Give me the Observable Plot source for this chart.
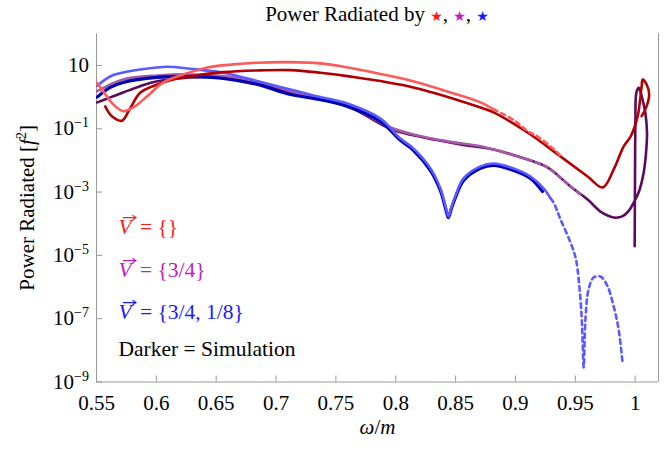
<!DOCTYPE html>
<html><head><meta charset="utf-8">
<script src="https://cdn.jsdelivr.net/npm/d3@7"></script>
<script src="https://cdn.jsdelivr.net/npm/@observablehq/plot@0.6"></script>
<style>
body{margin:0;background:#fff;}
#title{width:668px;height:30px;box-sizing:border-box;padding:4px 10px 0 96px;font-family:"Liberation Serif","Times New Roman",serif;font-size:21px;line-height:21px;text-align:center;white-space:nowrap;color:#000}
#title .star{font-family:"DejaVu Sans",sans-serif;font-size:14px}
</style></head><body>
<div id="title"></div>
<div id="chart"></div>
<script>
// ---- text ----
const titleText = "Power Radiated by";
const starColors = ["#ff1a1a", "#c020c0", "#1a1aff"];
const xLabel = "ω/m";
const yLabel = "Power Radiated [f^2]";
const legendLabels = ["V = {}", "V = {3/4}", "V = {3/4, 1/8}", "Darker = Simulation"];
const legendColors = ["#ff1a1a", "#c020c0", "#1a1aff", "#000000"];
const FONT = '"Liberation Serif", "Times New Roman", serif';

// ---- axes ----
const xDomain = [0.55, 1.0195];
const yDomain = [1e-9, 1e2];
const xTicks = [0.55, 0.6, 0.65, 0.7, 0.75, 0.8, 0.85, 0.9, 0.95, 1];
const yTicks = [1e1, 1e-1, 1e-3, 1e-5, 1e-7, 1e-9];
const yTickLabels = ["10", "10^-1", "10^-3", "10^-5", "10^-7", "10^-9"];

// ---- series: [omega/m, power] ----
const redTheory = [[0.5506,2.8],[0.5556,1.54],[0.5640,0.59],[0.5723,0.36],[0.5807,0.47],[0.5924,1.07],[0.6058,2.9],[0.6225,5.2],[0.6425,8.65],[0.6643,10.8],[0.6844,12.2],[0.7119,12.7],[0.7369,11.6],[0.7596,8.65],[0.7872,5.4],[0.8147,3.19],[0.8432,1.5],[0.8708,0.68],[0.8817,0.41]];
const redTheoryExt = [[0.8817,0.41],[0.8984,0.19],[0.9101,0.085],[0.9185,0.057],[0.9318,0.023],[0.9377,0.014]];
const redSim = [[0.5573,0.51],[0.5615,0.28],[0.5665,0.2],[0.5715,0.18],[0.5782,0.45],[0.5865,1.37],[0.6008,2.51],[0.6141,3.61],[0.6283,4.59],[0.6559,6.14],[0.6844,6.95],[0.7119,7.11],[0.7369,5.9],[0.7596,4.59],[0.8147,2.02],[0.8708,0.47],[0.8817,0.33],[0.9101,0.076],[0.9377,0.0133],[0.9603,0.0031],[0.9729,0.0014],[0.9821,0.0052],[0.9904,0.0276],[0.9962,0.057],[1.0021,0.25],[1.0054,2.17],[1.0063,3.6],[1.0096,2.51],[1.0117,1.21],[1.0096,0.52],[1.0054,0.25]];
const purpleTheory = [[0.5506,1.54],[0.5723,3.61],[0.6008,4.83],[0.6283,5.2],[0.6559,4.59],[0.6844,3.19],[0.7119,1.54],[0.7312,0.98],[0.7596,0.55],[0.7872,0.16],[0.7955,0.11],[0.8147,0.066],[0.8432,0.040],[0.8708,0.028],[0.8817,0.022],[0.9101,0.0107]];
const purpleTheoryExt = [[0.9101,0.0107],[0.9268,0.006],[0.946,0.0015],[0.955,0.0008]];
const purpleSim = [[0.5506,0.68],[0.5615,0.98],[0.5723,1.4],[0.5865,2.22],[0.6008,3.19],[0.6283,4.18],[0.6559,4.18],[0.6844,2.9],[0.7119,1.4],[0.7596,0.51],[0.7955,0.10],[0.8147,0.062],[0.8541,0.032],[0.8817,0.022],[0.9101,0.0107],[0.9268,0.006],[0.9460,0.0015],[0.9603,5.8e-4],[0.9711,2.4e-4],[0.9821,1.57e-4],[0.9892,1.7e-4],[0.9945,2.5e-4],[0.9987,4.6e-4],[1.0029,9.7e-4],[1.0071,0.0041],[1.0093,0.022],[1.0099,0.075],[1.0085,0.32],[1.0058,0.95],[1.003,1.97],[1.001,1.37],[1.0002,0.155],[0.9999,0.0041],[0.9996,1.95e-5]];
const blueTheory = [[0.5506,2.3],[0.5615,4.49],[0.5723,6.01],[0.5865,7.48],[0.6091,9.1],[0.6283,7.87],[0.6559,5.87],[0.6844,3.19],[0.7119,1.75],[0.7312,1.13],[0.7596,0.63],[0.7872,0.21],[0.8039,0.049],[0.8147,0.024],[0.829,0.0056],[0.8373,0.0013],[0.8423,2.8e-4],[0.844,1.7e-4],[0.8465,3.3e-4],[0.8499,7.8e-4],[0.8566,0.0027],[0.8708,0.0065],[0.8817,0.008],[0.8984,0.0056],[0.9126,0.0031],[0.9235,0.0013],[0.9293,6.3e-4]];
const blueTheoryExt = [[0.9293,6.3e-4],[0.9318,4.7e-4],[0.9377,1.36e-4],[0.946,2.55e-5],[0.9502,8.6e-6],[0.9519,3.6e-6],[0.9536,8.4e-7],[0.9553,1.17e-7],[0.9561,1.77e-8],[0.957,2.9e-9],[0.9586,1.17e-7],[0.9611,8.4e-7],[0.9653,2.0e-6],[0.9711,2.15e-6],[0.977,1.04e-6],[0.9821,2.4e-7],[0.9862,4.6e-8],[0.9896,3.6e-9]];
const blueSim = [[0.5506,1.0],[0.5615,2.02],[0.5723,2.9],[0.6008,4.18],[0.6283,4.49],[0.6559,3.88],[0.6844,2.51],[0.7119,1.21],[0.7312,0.91],[0.7596,0.51],[0.7872,0.17],[0.8039,0.043],[0.8147,0.021],[0.829,0.0048],[0.8373,0.0011],[0.8423,2.4e-4],[0.844,1.57e-4],[0.8465,3.0e-4],[0.8499,6.8e-4],[0.8566,0.0023],[0.8708,0.0056],[0.8817,0.0069],[0.8984,0.0048],[0.9126,0.0027],[0.9226,0.00104]];

const C = {
  lightRed: "#ff5a5a", darkRed: "#b20000",
  lightPurple: "#a45aa8", darkPurple: "#5c0a5c",
  lightBlue: "#5a5aff", darkBlue: "#0000b4",
  axis: "#999"
};

// title
const t = document.getElementById("title");
t.append(titleText + " ");
starColors.forEach((c, i) => {
  const s = document.createElement("span");
  s.className = "star"; s.style.color = c; s.textContent = "★";
  t.append(s);
  if (i < starColors.length - 1) t.append(", ");
});

const ln = (data, stroke, w, extra = {}) => Plot.line(data, {x: d => d[0], y: d => d[1], stroke, strokeWidth: w, curve: "catmull-rom", clip: true, ...extra});
const dash = {strokeDasharray: "4.5,4"};

const legendDy = [19.6, 62.6, 104.6, 141.6];

const svg = Plot.plot({
  width: 668, height: 420,
  marginLeft: 96, marginRight: 10, marginTop: 3.3, marginBottom: 68.5,
  style: {fontFamily: FONT, fontSize: "21px", background: "white", color: "black", overflow: "visible"},
  x: {domain: xDomain},
  y: {type: "log", domain: yDomain},
  marks: [
    Plot.ruleX([xDomain[0], xDomain[1]], {stroke: C.axis, strokeWidth: 1}),
    Plot.ruleY([yDomain[0]], {stroke: C.axis, strokeWidth: 1}),
    Plot.axisX({ticks: xTicks, tickSize: -6, tickPadding: 19, tickFormat: d => String(+d.toFixed(2)), stroke: C.axis, fill: "black", label: null, fontFamily: FONT, fontSize: 21}),
    Plot.axisY({ticks: yTicks, tickSize: -6, tickPadding: 13.5, tickFormat: d => yTickLabels[yTicks.indexOf(d)], stroke: C.axis, fill: "black", label: null, fontFamily: FONT, fontSize: 21}),
    ln(purpleSim, C.darkPurple, 2.6),
    ln(purpleTheory, C.lightPurple, 2.6),
    ln(purpleTheoryExt, C.lightPurple, 2.6, dash),
    ln(blueSim, C.darkBlue, 3.2),
    ln(blueTheory, C.lightBlue, 2.6),
    ln(blueTheoryExt, C.lightBlue, 2.6, dash),
    ln(redSim, C.darkRed, 2.6),
    ln(redTheory, C.lightRed, 2.6),
    ln(redTheoryExt, C.lightRed, 2.6, dash),
    ...legendLabels.map((lab, i) => Plot.text([lab], {text: d => d, frameAnchor: "left", dx: 22, dy: legendDy[i], fill: legendColors[i], fontSize: 21.5, textAnchor: "start", fontFamily: FONT})),
    Plot.text([yLabel], {text: d => d, frameAnchor: "left", dx: -69, rotate: -90, fontSize: 21, fill: "black", textAnchor: "middle", fontFamily: FONT}),
    Plot.text([xLabel], {text: d => d, frameAnchor: "bottom", dy: 52, fontSize: 21, fill: "black", textAnchor: "middle", fontFamily: FONT})
  ]
});
document.getElementById("chart").append(svg);

// rich-text post-processing (superscripts, italics, vector arrow)
const NS = "http://www.w3.org/2000/svg";
function rich(el, parts) {
  while (el.firstChild) el.removeChild(el.firstChild);
  const out = [];
  for (const p of parts) {
    const ts = document.createElementNS(NS, "tspan");
    ts.textContent = p.t;
    if (p.it) ts.setAttribute("font-style", "italic");
    if (p.dx != null) ts.setAttribute("dx", p.dx);
    if (p.dy != null) ts.setAttribute("dy", p.dy);
    if (p.fs) ts.setAttribute("font-size", p.fs);
    el.appendChild(ts);
    out.push(ts);
  }
  return out;
}
svg.querySelectorAll("text").forEach(el => {
  const s = el.textContent;
  if (/^10\^/.test(s)) {
    const e = s.split("^")[1].replace("-", "−");
    rich(el, [{t: "10"}, {t: e, dy: -8, fs: 14}]);
  } else if (s.startsWith("V = ")) {
    const [v] = rich(el, [{t: "V", it: true}, {t: s.slice(1), dx: 3}]);
    // vector arrow accent drawn over the V
    const b = v.getBBox();
    const color = el.getAttribute("fill") || el.parentNode.getAttribute("fill") || "black";
    const yA = b.y + 2.2, x0 = b.x + 4.5, x1 = b.x + b.width + 1.5;
    const path = document.createElementNS(NS, "path");
    path.setAttribute("d", `M${x0},${yA}H${x1}M${x1 - 3.5},${yA - 2.4}L${x1},${yA}L${x1 - 3.5},${yA + 2.4}`);
    path.setAttribute("fill", "none");
    path.setAttribute("stroke", color);
    path.setAttribute("stroke-width", 1.1);
    if (el.getAttribute("transform")) path.setAttribute("transform", el.getAttribute("transform"));
    el.parentNode.appendChild(path);
  } else if (s === yLabel) {
    rich(el, [{t: "Power Radiated ["}, {t: "f", it: true}, {t: "2", dy: -8, fs: 14}, {t: "]", dy: 8}]);
  } else if (s === xLabel) {
    rich(el, [{t: "ω", it: true}, {t: "/"}, {t: "m", it: true}]);
  }
});
</script></body></html>
